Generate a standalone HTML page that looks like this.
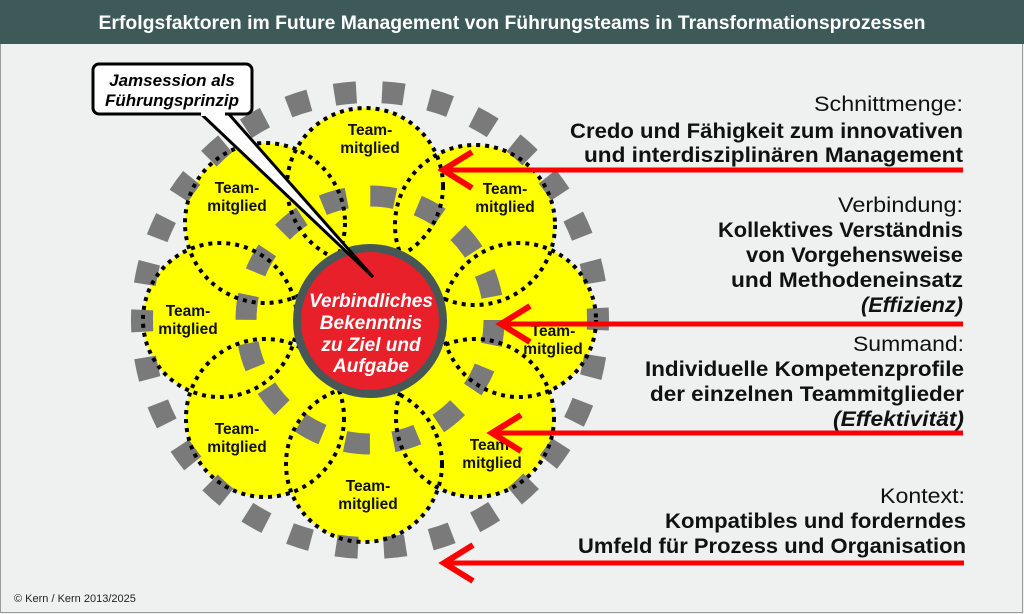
<!DOCTYPE html>
<html><head><meta charset="utf-8"><style>
html,body{margin:0;padding:0;background:#eff0f0;}
svg{display:block;}
</style></head><body>
<svg width="1024" height="614" viewBox="0 0 1024 614" xmlns="http://www.w3.org/2000/svg" font-family="Liberation Sans, sans-serif">
<rect x="0" y="0" width="1024" height="614" fill="#eff0f0"/>
<rect x="0.5" y="0.5" width="1022" height="612" fill="none" stroke="#9a9a9a" stroke-width="1"/>
<rect x="0" y="0" width="1024" height="44" fill="#3d5958"/>
<text x="512" y="29" fill="#fff" font-size="19" font-weight="bold" text-anchor="middle" textLength="827" lengthAdjust="spacingAndGlyphs">Erfolgsfaktoren im Future Management von Führungsteams in Transformationsprozessen</text>

<g fill="#ffff00">
<circle cx="365" cy="186" r="78"/><circle cx="265" cy="223" r="80"/><circle cx="475" cy="225" r="80"/>
<circle cx="220" cy="320" r="77"/><circle cx="519" cy="320" r="77"/><circle cx="265" cy="418" r="79"/>
<circle cx="475" cy="418" r="79"/><circle cx="364" cy="464" r="78"/>
</g>
<circle cx="370" cy="320" r="124" fill="none" stroke="#7a7a7a" stroke-width="21" stroke-dasharray="25 23.7"/>
<circle cx="370" cy="320" r="228" fill="none" stroke="#7a7a7a" stroke-width="22" stroke-dasharray="22 25.75" transform="rotate(-3 370 320)"/>
<g fill="none" stroke="#000" stroke-width="4" stroke-dasharray="4 5">
<circle cx="365" cy="186" r="78"/><circle cx="265" cy="223" r="80"/><circle cx="475" cy="225" r="80"/>
<circle cx="220" cy="320" r="77"/><circle cx="519" cy="320" r="77"/><circle cx="265" cy="418" r="79"/>
<circle cx="475" cy="418" r="79"/><circle cx="364" cy="464" r="78"/>
</g>
<circle cx="370" cy="321" r="73" fill="#e8202a" stroke="#465756" stroke-width="8"/>
<g fill="#fff" font-size="19" font-weight="bold" font-style="italic" text-anchor="middle">
<text x="371" y="307">Verbindliches</text>
<text x="371" y="329">Bekenntnis</text>
<text x="371" y="351">zu Ziel und</text>
<text x="371" y="372">Aufgabe</text>
</g>
<g font-size="15.5" font-weight="bold" text-anchor="middle" fill="#111">
<text x="370" y="135">Team-</text><text x="370" y="153">mitglied</text>
<text x="237" y="193">Team-</text><text x="237" y="211">mitglied</text>
<text x="505" y="194">Team-</text><text x="505" y="212">mitglied</text>
<text x="188" y="316">Team-</text><text x="188" y="334">mitglied</text>
<text x="553" y="336">Team-</text><text x="553" y="354">mitglied</text>
<text x="237" y="434">Team-</text><text x="237" y="452">mitglied</text>
<text x="492" y="450">Team-</text><text x="492" y="468">mitglied</text>
<text x="368" y="491">Team-</text><text x="368" y="509">mitglied</text>
</g>
<polygon points="199,112 227,112 373,277" fill="#fff" stroke="#000" stroke-width="3" stroke-linejoin="miter"/>
<rect x="93" y="64" width="159" height="50" rx="6" fill="#fff" stroke="#000" stroke-width="3"/>
<rect x="201" y="108" width="24" height="8" fill="#fff"/>
<g font-size="17" font-weight="bold" font-style="italic" text-anchor="middle" fill="#000">
<text x="172" y="86">Jamsession als</text>
<text x="172" y="106">Führungsprinzip</text>
</g>
<g stroke="#ff0000" fill="none" stroke-width="5">
<line x1="444" y1="170" x2="963" y2="170"/>
<polyline points="472,152 443,170 472,188" stroke-width="6"/>
<line x1="501" y1="324" x2="963" y2="324"/>
<polyline points="530,306 501,324 530,342" stroke-width="6"/>
<line x1="492" y1="433" x2="963" y2="433"/>
<polyline points="521,415 492,433 521,451" stroke-width="6"/>
<line x1="444" y1="563" x2="964" y2="563"/>
<polyline points="473,545 444,563 473,581" stroke-width="6"/>
</g>
<g fill="#111" font-size="21" text-anchor="end">
<text x="963" y="111" textLength="149" lengthAdjust="spacingAndGlyphs">Schnittmenge:</text>
<text x="963" y="138" font-weight="bold" textLength="393" lengthAdjust="spacingAndGlyphs">Credo und Fähigkeit zum innovativen</text>
<text x="963" y="162" font-weight="bold" textLength="379" lengthAdjust="spacingAndGlyphs">und interdisziplinären Management</text>
<text x="963" y="212" textLength="125" lengthAdjust="spacingAndGlyphs">Verbindung:</text>
<text x="963" y="237" font-weight="bold" textLength="245" lengthAdjust="spacingAndGlyphs">Kollektives Verständnis</text>
<text x="963" y="262" font-weight="bold" textLength="217" lengthAdjust="spacingAndGlyphs">von Vorgehensweise</text>
<text x="963" y="287" font-weight="bold" textLength="232" lengthAdjust="spacingAndGlyphs">und Methodeneinsatz</text>
<text x="963" y="312" font-weight="bold" font-style="italic" textLength="102" lengthAdjust="spacingAndGlyphs">(Effizienz)</text>
<text x="964" y="351" textLength="111" lengthAdjust="spacingAndGlyphs">Summand:</text>
<text x="964" y="376" font-weight="bold" textLength="319" lengthAdjust="spacingAndGlyphs">Individuelle Kompetenzprofile</text>
<text x="964" y="401" font-weight="bold" textLength="314" lengthAdjust="spacingAndGlyphs">der einzelnen Teammitglieder</text>
<text x="964" y="426" font-weight="bold" font-style="italic" textLength="131" lengthAdjust="spacingAndGlyphs">(Effektivität)</text>
<text x="965" y="503" textLength="85" lengthAdjust="spacingAndGlyphs">Kontext:</text>
<text x="966" y="528" font-weight="bold" textLength="301" lengthAdjust="spacingAndGlyphs">Kompatibles und forderndes</text>
<text x="966" y="553" font-weight="bold" textLength="388" lengthAdjust="spacingAndGlyphs">Umfeld für Prozess und Organisation</text>
</g>
<text x="14" y="602" font-size="11" fill="#222">© Kern / Kern 2013/2025</text>
</svg>
</body></html>
